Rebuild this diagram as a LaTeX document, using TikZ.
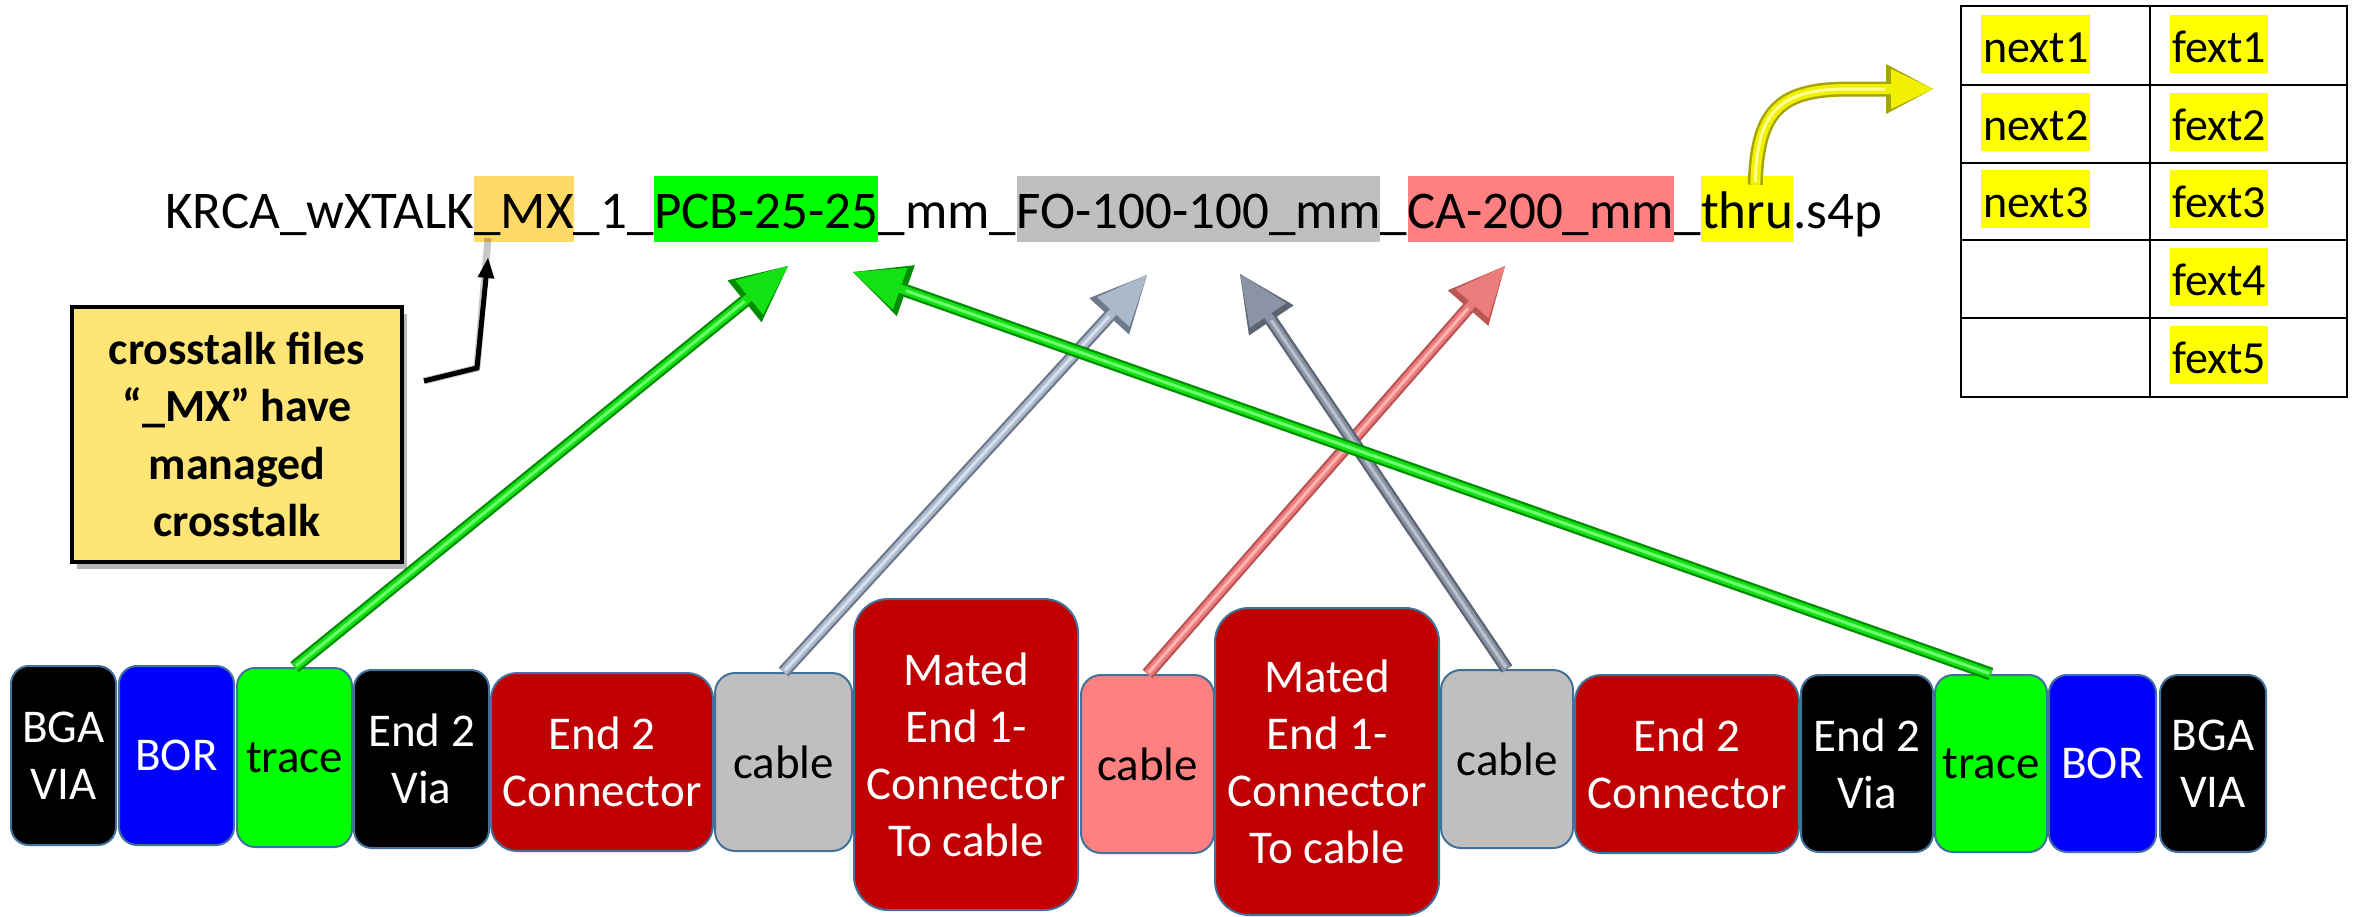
\documentclass[tikz,border=0pt]{standalone}
\usepackage{fontspec}
\setmainfont{Carlito}
\usetikzlibrary{arrows.meta,shadows}

% palette
\definecolor{boxedge}{RGB}{65,113,156}
\definecolor{conred}{RGB}{192,0,0}
\definecolor{borblue}{RGB}{0,0,255}
\definecolor{tracegreen}{RGB}{0,255,0}
\definecolor{cablegray}{RGB}{191,191,191}
\definecolor{cablepink}{RGB}{255,128,128}
\definecolor{mxorange}{RGB}{255,217,102}
\definecolor{hlyellow}{RGB}{255,255,0}
\definecolor{notefill}{RGB}{255,229,118}
% pipe arrow shades: dark rim / body / shine
\definecolor{grnD}{RGB}{0,140,0}
\definecolor{grnM}{RGB}{20,225,20}
\definecolor{grnL}{RGB}{110,255,110}
\definecolor{gryD}{RGB}{110,122,140}
\definecolor{gryM}{RGB}{172,185,202}
\definecolor{gryL}{RGB}{215,224,236}
\definecolor{slaD}{RGB}{90,100,115}
\definecolor{slaM}{RGB}{138,148,164}
\definecolor{slaL}{RGB}{185,193,206}
\definecolor{pnkD}{RGB}{185,85,85}
\definecolor{pnkM}{RGB}{236,125,125}
\definecolor{pnkL}{RGB}{255,180,180}
\definecolor{yelD}{RGB}{165,165,0}
\definecolor{yelM}{RGB}{240,240,0}
\definecolor{yelL}{RGB}{255,255,150}

\newcommand\boxtextfont{\fontsize{47}{57}\selectfont}
\newcommand\titletextfont{\fontsize{53}{60}\selectfont}
\newcommand\celltextfont{\fontsize{46}{55}\selectfont}
\newcommand\notetextfont{\fontsize{46}{57.5}\selectfont\bfseries}

% three-layer straight pipe arrow: dark, body, shine, from, to
\newcommand\pipearrow[5]{%
  \draw[pipeouter, draw=#1] (#4) -- (#5);
  \draw[pipeinner, draw=#2] (#4) -- (#5);
  \draw[pipeshine, draw=#3] (#4) -- (#5);
}

\begin{document}
\begin{tikzpicture}[x=1pt, y=-1pt,
  part/.style={rectangle, draw=boxedge, line width=2pt, inner sep=0pt,
               align=center, font=\boxtextfont},
  tseg/.style={rectangle, inner xsep=0pt, inner ysep=0pt, text height=52pt,
               text depth=14pt, font=\titletextfont, anchor=base west},
  cell/.style={rectangle, fill=hlyellow, inner xsep=2pt, inner ysep=0pt,
               text height=47pt, text depth=11pt, font=\celltextfont,
               anchor=base west},
  gridline/.style={line width=2.5pt, draw=black},
  pipeouter/.style={line width=13pt,
    -{Triangle[length=56pt,width=54pt,line width=0pt]}},
  pipeinner/.style={line width=8.5pt,
    -{Triangle[length=50pt,width=44pt,line width=0pt]}},
  pipeshine/.style={line width=3pt, shorten >=56pt, shorten <=2pt},
]
\useasboundingbox (0,0) rectangle (2356,916);

% ---------------- file name ----------------
\node[tseg] (t1) at (165,228) {KRCA\_wXTALK};
\node[tseg, fill=mxorange] (tMX) at (t1.base east) {\_MX};
\node[tseg] (t2) at (tMX.base east) {\_1\_};
\node[tseg, fill=tracegreen] (tPCB) at (t2.base east) {PCB-25-25};
\node[tseg] (t3) at (tPCB.base east) {\_mm\_};
\node[tseg, fill=cablegray] (tFO) at (t3.base east) {FO-100-100\_mm};
\node[tseg] (t4) at (tFO.base east) {\_};
\node[tseg, fill=cablepink] (tCA) at (t4.base east) {CA-200\_mm};
\node[tseg] (t5) at (tCA.base east) {\_};
\node[tseg, fill=hlyellow] (tThru) at (t5.base east) {thru};
\node[tseg] (t6) at (tThru.base east) {.s4p};

% ---------------- channel chain ----------------
\node[part, fill=black, text=white, minimum width=105pt, minimum height=179pt,
      rounded corners=18pt] (bgaL) at (63.5,755.5) {BGA\\VIA};
\node[part, fill=borblue, text=white, minimum width=115pt, minimum height=179pt,
      rounded corners=18pt] (borL) at (176.5,755.5) {BOR};
\node[part, fill=tracegreen, text=black, minimum width=115pt, minimum height=179pt,
      rounded corners=18pt] (traceL) at (294.5,757.5) {trace};
\node[part, fill=black, text=white, minimum width=135pt, minimum height=178pt,
      rounded corners=18pt] (viaL) at (421.5,759) {End 2\\Via};
\node[part, fill=conred, text=white, minimum width=222pt, minimum height=178pt,
      rounded corners=26pt] (conL) at (602,762) {End 2\\Connector};
\node[part, fill=cablegray, text=black, minimum width=137pt, minimum height=178pt,
      rounded corners=20pt] (cabL) at (783.5,762) {cable};
\node[part, fill=conred, text=white, minimum width=224pt, minimum height=311pt,
      rounded corners=34pt] (matedL) at (966,754.5)
      {Mated\\End 1-\\Connector\\To cable};
\node[part, fill=cablepink, text=black, minimum width=133pt, minimum height=178pt,
      rounded corners=20pt] (cabM) at (1147.5,764) {cable};
\node[part, fill=conred, text=white, minimum width=224pt, minimum height=307pt,
      rounded corners=34pt] (matedR) at (1327,761.5)
      {Mated\\End 1-\\Connector\\To cable};
\node[part, fill=cablegray, text=black, minimum width=132pt, minimum height=178pt,
      rounded corners=20pt] (cabR) at (1507,759) {cable};
\node[part, fill=conred, text=white, minimum width=224pt, minimum height=178pt,
      rounded corners=26pt] (conR) at (1687,764) {End 2\\Connector};
\node[part, fill=black, text=white, minimum width=132pt, minimum height=177pt,
      rounded corners=18pt] (viaR) at (1867,763.5) {End 2\\Via};
\node[part, fill=tracegreen, text=black, minimum width=112pt, minimum height=177pt,
      rounded corners=18pt] (traceR) at (1991,763.5) {trace};
\node[part, fill=borblue, text=white, minimum width=107pt, minimum height=177pt,
      rounded corners=18pt] (borR) at (2102.5,763.5) {BOR};
\node[part, fill=black, text=white, minimum width=106pt, minimum height=177pt,
      rounded corners=18pt] (bgaR) at (2213,763.5) {BGA\\VIA};

% ---------------- arrow end points under the file name ----------------
\coordinate (greenTipA) at (788,266);
\coordinate (greenTipB) at (853,272);
\coordinate (grayTipA) at (1147,275);
\coordinate (grayTipB) at (1240,274);
\coordinate (pinkTip) at (1505,266);

\pipearrow{pnkD}{pnkM}{pnkL}{cabM.north}{pinkTip}
\pipearrow{slaD}{slaM}{slaL}{cabR.north}{grayTipB}
\pipearrow{gryD}{gryM}{gryL}{cabL.north}{grayTipA}
\pipearrow{grnD}{grnM}{grnL}{traceL.north}{greenTipA}
\pipearrow{grnD}{grnM}{grnL}{traceR.north}{greenTipB}

% ---------------- note on _MX ----------------
\node[rectangle, draw=black, line width=4pt, fill=notefill,
      minimum width=330pt, minimum height=255pt, align=center,
      font=\notetextfont,
      drop shadow={shadow xshift=5pt, shadow yshift=-7pt, opacity=.4, fill=black!70}]
      (note) at (237,434.5) {crosstalk files\\“\_MX” have\\managed\\crosstalk};

\coordinate (noteTail) at (424,381);
\coordinate (noteBend) at (477,368);
\coordinate (noteTip) at (488,258);
\draw[line width=7pt, black, opacity=.22, shift={(5,9)}, line join=round]
  (noteTail) -- (noteBend) -- ([yshift=20pt]noteTip);
\draw[line width=5pt, black, line join=miter,
      -{Triangle[length=20pt,width=17pt,line width=0pt]}]
  (noteTail) -- (noteBend) -- (noteTip);

% ---------------- crosstalk table ----------------
\draw[gridline] (1961,6) rectangle (2347,397);
\draw[gridline] (2150,6) -- (2150,397);
\foreach \yy in {85,163,240,318} \draw[gridline] (1961,\yy) -- (2347,\yy);

\node[cell] (n1) at (1981,62) {next1};
\node[cell] (n2) at (1981,140) {next2};
\node[cell] (n3) at (1981,217) {next3};
\node[cell] (f1) at (2170,62) {fext1};
\node[cell] (f2) at (2170,140) {fext2};
\node[cell] (f3) at (2170,217) {fext3};
\node[cell] (f4) at (2170,295) {fext4};
\node[cell] (f5) at (2170,373) {fext5};

% ---------------- thru -> table ----------------
\coordinate (thruTail) at ([xshift=-38pt, yshift=-9pt]tThru.north east);
\coordinate (thruTip) at (1933,89);
\draw[line width=15pt, draw=yelD,
      -{Triangle[length=47pt,width=50pt,line width=0pt]}]
  (thruTail) .. controls (1757,108) and (1782,89) .. (1850,89) -- (thruTip);
\draw[line width=10pt, draw=yelM,
      -{Triangle[length=42pt,width=40pt,line width=0pt]}]
  (thruTail) .. controls (1757,108) and (1782,89) .. (1850,89) -- (thruTip);
\draw[line width=3pt, draw=yelL, shorten >=48pt, shorten <=3pt]
  (thruTail) .. controls (1757,108) and (1782,89) .. (1850,89) -- (thruTip);
\end{tikzpicture}
\end{document}
